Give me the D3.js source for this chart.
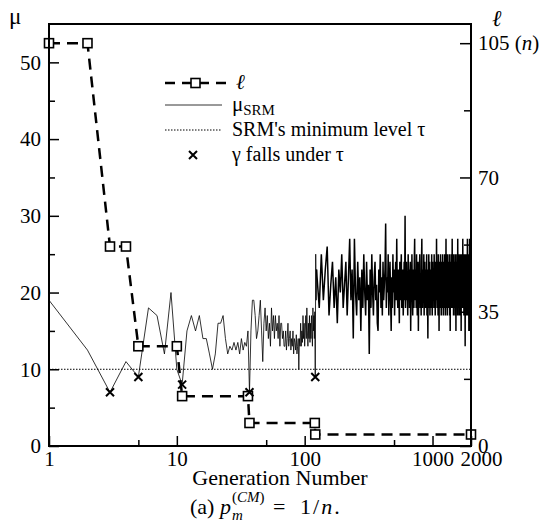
<!DOCTYPE html>
<html>
<head>
<meta charset="utf-8">
<script src="https://cdn.jsdelivr.net/npm/d3@7"></script>
<style>
  body { margin: 0; background: #fff; }
</style>
</head>
<body>
<div id="chart"></div>
<script>
// generations 1..124, one value per generation
var muEarly = [
  19, 12.5, 7, 11, 9, 18, 17, 12, 20, 10,
  8, 15, 17, 15, 17, 14, 14, 12, 10, 12,
  16, 16, 17, 14, 12, 13, 12.5, 13.5, 12.5, 13.5,
  12, 14, 12.5, 13.5, 13, 15, 7, 15, 19, 19,
  17, 14, 15, 17, 19, 15, 11, 16, 18, 15,
  17, 14, 16, 13, 18, 15, 17, 14, 17, 15,
  16, 14, 17, 13, 16, 16, 14, 15, 13, 13,
  15, 12.5, 14, 16, 13, 14, 15, 12.5, 14, 13,
  15, 12, 14, 13.5, 12.5, 14.5, 12, 13, 14, 10,
  14, 13, 16, 13, 15, 13.5, 17, 14, 16, 13,
  15, 17, 14, 18, 15, 13, 16, 14, 17, 13.5,
  16, 14, 17, 15, 13, 18, 15, 17, 14, 17.5,
  9, 25, 19, 23
];
// generations 125..2000, every 5th generation
var muLate = [
  22, 18, 25, 19, 23, 26, 17, 21, 24, 18, 22, 16, 23, 20, 25, 18, 21, 24, 17, 22,
  27, 19, 23, 14, 27, 20, 17, 24, 19, 22, 15, 23, 18, 25, 20, 17, 24, 19, 21, 12,
  23, 18, 25, 20, 17, 22, 24, 19, 21, 16, 15, 23, 20, 25, 18, 22, 17, 24, 19, 21,
  23, 29, 18, 22, 20, 25, 17, 21, 24, 19, 15, 22, 18, 25, 20, 23, 17, 21, 24, 19,
  27, 20, 18, 23, 21, 16, 24, 19, 22, 25, 18, 21, 23, 17, 20, 24, 19, 30, 18, 22,
  24, 19, 21, 17, 25, 20, 23, 18, 22, 24, 15, 21, 19, 25, 20, 17, 23, 22, 18, 24,
  27, 19, 21, 23, 18, 25, 20, 17, 22, 24, 15, 21, 19, 23, 25, 18, 20, 22, 17, 24,
  27, 20, 18, 23, 21, 19, 25, 17, 22, 24, 19, 21, 18, 23, 20, 25, 17, 22, 19, 14,
  23, 20, 25, 18, 21, 24, 17, 22, 19, 23, 20, 18, 25, 21, 17, 24, 19, 22, 20, 23,
  18, 25, 21, 19, 24, 17, 22, 20, 23, 19, 27, 21, 18, 24, 20, 22, 17, 25, 19, 23,
  15, 22, 20, 24, 18, 21, 25, 19, 23, 17, 22, 20, 24, 18, 21, 25, 19, 22, 17, 23,
  20, 24, 18, 21, 25, 19, 22, 17, 23, 20, 27, 18, 21, 24, 19, 22, 17, 25, 20, 23,
  18, 21, 24, 19, 22, 20, 25, 17, 23, 21, 15, 24, 19, 22, 20, 25, 18, 21, 23, 19,
  27, 20, 18, 24, 21, 19, 23, 17, 25, 20, 22, 18, 24, 21, 19, 23, 17, 25, 20, 22,
  15, 24, 19, 21, 23, 18, 25, 20, 22, 17, 27, 21, 19, 24, 18, 22, 20, 25, 17, 23,
  21, 19, 24, 18, 22, 20, 25, 17, 23, 21, 15, 24, 19, 22, 20, 25, 18, 21, 23, 19,
  27, 20, 18, 24, 21, 19, 23, 17, 25, 20, 22, 18, 24, 21, 19, 13, 22, 25, 20, 17,
  23, 21, 19, 24, 18, 22, 20, 25, 17, 23, 27, 20, 18, 24, 21, 19, 23, 17, 25, 20,
  15, 22, 24, 18, 21, 27, 19, 23, 17, 15, 22, 20, 24, 18, 21, 19
];
// l (segment length) steps
var lGen = [1, 2, 3, 4, 5, 10, 11, 36, 37, 120, 121, 2000];
var lVal = [105, 105, 52, 52, 26, 26, 13, 13, 6, 6, 3, 3];
// generations where gamma falls under tau
var fallGen = [3, 5, 11, 37, 121];
var tau = 10;

var xTicks = [1, 10, 100, 1000, 2000];
var xMinor = [5, 50, 500];
var muTicks = [0, 10, 20, 30, 40, 50];
var muMinor = [5, 15, 25, 35, 45];
var lTicks = [0, 35, 70, 105];
var lMinor = [17.5, 52.5, 87.5];

var W = 547, H = 527;
var pLeft = 49, pRight = 471, pTop = 24, pBottom = 446;
var FONT = "'Liberation Serif', 'Times New Roman', serif";

var early = muEarly.map(function(v, i) { return { g: i + 1, v: v }; });
var late = muLate.map(function(v, i) { return { g: 125 + 5 * i, v: v }; });
late.unshift(early[early.length - 1]);
var muAt = {};
early.forEach(function(d) { muAt[d.g] = d.v; });

var svg = d3.select("#chart").append("svg")
  .attr("width", W)
  .attr("height", H)
  .style("font-family", FONT);
svg.append("rect").attr("width", W).attr("height", H).attr("fill", "#fff");

var x = d3.scaleLog().domain([1, 2000]).range([pLeft, pRight]);
var yL = d3.scaleLinear().domain([0, 55]).range([pBottom, pTop]);
var yR = d3.scaleLinear().domain([0, 110]).range([pBottom, pTop]);

function label(px, py, size, str) {
  return svg.append("text").attr("x", px).attr("y", py)
    .style("font-family", FONT).style("font-size", size + "px").attr("fill", "#000").text(str);
}

// tau level
svg.append("line")
  .attr("x1", pLeft).attr("x2", pRight)
  .attr("y1", yL(tau)).attr("y2", yL(tau))
  .attr("stroke", "#000").attr("stroke-width", 1)
  .attr("stroke-dasharray", "1.5,1.5");

// mu_SRM
var muLine = d3.line().x(function(d) { return x(d.g); }).y(function(d) { return yL(d.v); });
svg.append("path").datum(early)
  .attr("fill", "none").attr("stroke", "#000").attr("stroke-width", 0.8)
  .attr("d", muLine);
svg.append("path").datum(late)
  .attr("fill", "none").attr("stroke", "#000").attr("stroke-width", 1.5)
  .attr("d", muLine);

// l steps
var lData = lGen.map(function(g, i) { return { g: g, v: lVal[i] }; });
svg.append("path")
  .datum(lData)
  .attr("fill", "none")
  .attr("stroke", "#000")
  .attr("stroke-width", 2.5)
  .attr("stroke-dasharray", "11,7")
  .attr("d", d3.line().x(function(d) { return x(d.g); }).y(function(d) { return yR(d.v); }));
svg.selectAll(".sq")
  .data(lData)
  .enter().append("rect")
  .attr("x", function(d) { return x(d.g) - 4.5; })
  .attr("y", function(d) { return yR(d.v) - 4.5; })
  .attr("width", 9).attr("height", 9)
  .attr("fill", "#fff").attr("stroke", "#000").attr("stroke-width", 1.6);

// crosses
function cross(g, cx, cy) {
  g.append("path")
    .attr("d", "M" + (cx - 4) + "," + (cy - 4) + "L" + (cx + 4) + "," + (cy + 4) +
               "M" + (cx - 4) + "," + (cy + 4) + "L" + (cx + 4) + "," + (cy - 4))
    .attr("stroke", "#000").attr("stroke-width", 2);
}
fallGen.forEach(function(g) { cross(svg, x(g), yL(muAt[g])); });

// axes
function styleAxis(g) {
  g.attr("font-family", null);
  g.select(".domain").remove();
  g.selectAll(".tick line").attr("stroke", "#000").attr("stroke-width", 1.5);
  g.selectAll("text").style("font-size", "21px").style("font-family", FONT).attr("fill", "#000");
}
svg.append("g").attr("transform", "translate(" + pLeft + ",0)")
  .call(d3.axisLeft(yL).tickValues(muTicks).tickSize(-10).tickPadding(8).tickFormat(d3.format("d")))
  .call(styleAxis);
svg.append("g").attr("transform", "translate(" + pLeft + ",0)")
  .call(d3.axisLeft(yL).tickValues(muMinor).tickSize(-6).tickFormat(""))
  .call(styleAxis);
var rAxis = svg.append("g").attr("transform", "translate(" + pRight + ",0)")
  .call(d3.axisRight(yR).tickValues(lTicks).tickSize(-11).tickPadding(7).tickFormat(function(d) { return d === 105 ? "105 (" : d; }))
  .call(styleAxis);
rAxis.selectAll(".tick text").filter(function(d) { return d === 105; })
  .append("tspan").style("font-style", "italic").text("n");
rAxis.selectAll(".tick text").filter(function(d) { return d === 105; })
  .append("tspan").text(")");
svg.append("g").attr("transform", "translate(" + pRight + ",0)")
  .call(d3.axisRight(yR).tickValues(lMinor).tickSize(-7).tickFormat(""))
  .call(styleAxis);
var bAxis = svg.append("g").attr("transform", "translate(0," + pBottom + ")")
  .call(d3.axisBottom(x).tickValues(xTicks).tickSize(-10).tickPadding(5).tickFormat(d3.format("d")))
  .call(styleAxis);
bAxis.selectAll(".tick text").filter(function(d) { return d === 2000; }).attr("dx", 10);
svg.append("g").attr("transform", "translate(0," + pBottom + ")")
  .call(d3.axisBottom(x).tickValues(xMinor).tickSize(-6).tickFormat(""))
  .call(styleAxis);

// frame
svg.append("rect")
  .attr("x", pLeft).attr("y", pTop)
  .attr("width", pRight - pLeft).attr("height", pBottom - pTop)
  .attr("fill", "none").attr("stroke", "#000").attr("stroke-width", 2);

// axis titles
label(9, 24, 23, "\u03bc");
label(492, 26, 23, "\u2113").style("font-style", "italic");
label(280, 485, 22, "Generation Number").attr("text-anchor", "middle");

// caption
label(190, 514, 22, "(a)");
label(220, 514, 22, "p").style("font-style", "italic");
var sup = label(232, 502, 15, "");
sup.append("tspan").text("(");
sup.append("tspan").style("font-style", "italic").text("CM");
sup.append("tspan").text(")");
label(232, 520, 15, "m").style("font-style", "italic");
label(273, 514, 22, "=");
var cap = label(300, 514, 22, "").style("letter-spacing", "2px");
cap.append("tspan").text("1/");
cap.append("tspan").style("font-style", "italic").text("n");
cap.append("tspan").text(".");

// legend
var lg = svg.append("g");
lg.append("line").attr("x1", 165).attr("x2", 227).attr("y1", 83).attr("y2", 83)
  .attr("stroke", "#000").attr("stroke-width", 2.5).attr("stroke-dasharray", "10,7");
lg.append("rect").attr("x", 191).attr("y", 78.5).attr("width", 9).attr("height", 9)
  .attr("fill", "#fff").attr("stroke", "#000").attr("stroke-width", 1.6);
label(236, 89, 21, "\u2113").style("font-style", "italic");
lg.append("line").attr("x1", 165).attr("x2", 222).attr("y1", 105).attr("y2", 105)
  .attr("stroke", "#000").attr("stroke-width", 0.8);
var t2 = label(232, 111, 21, "");
t2.append("tspan").text("\u03bc");
t2.append("tspan").attr("dy", 4).style("font-size", "15px").text("SRM");
lg.append("line").attr("x1", 165).attr("x2", 222).attr("y1", 130).attr("y2", 130)
  .attr("stroke", "#000").attr("stroke-width", 1).attr("stroke-dasharray", "1.5,1.5");
label(232, 136, 20, "SRM's minimum level \u03c4");
cross(lg, 193, 155);
label(232, 161, 20, "\u03b3 falls under \u03c4");
</script>
</body>
</html>
